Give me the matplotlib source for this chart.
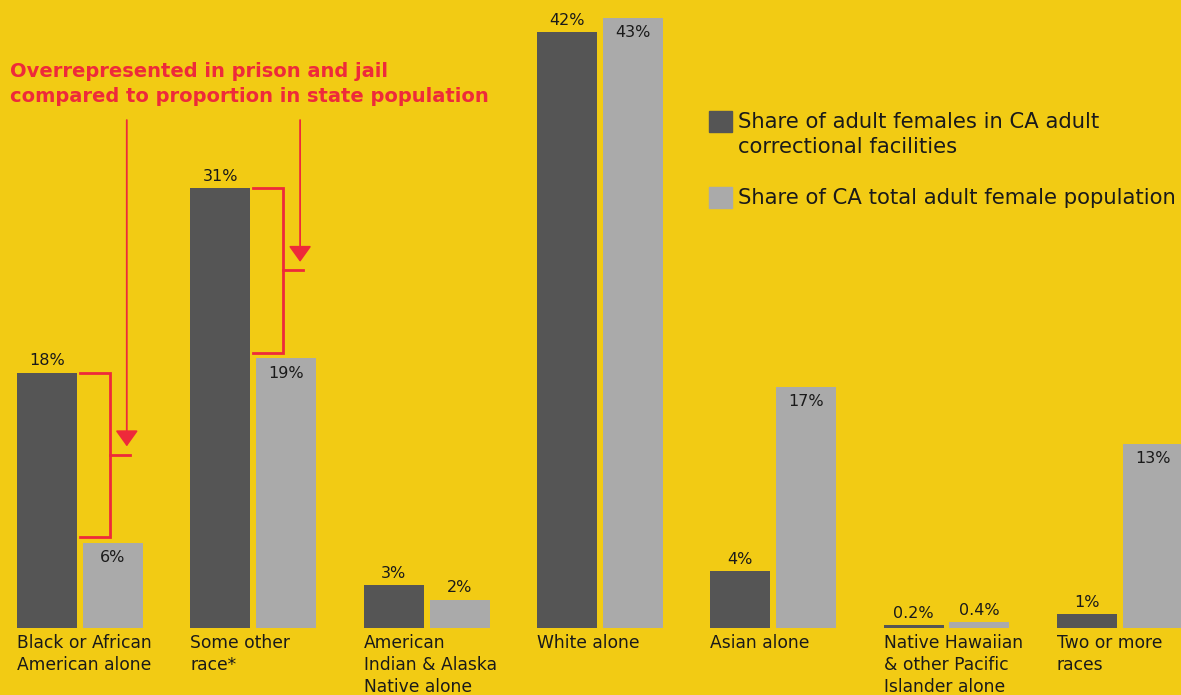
import matplotlib
matplotlib.use('Agg')
import matplotlib.pyplot as plt
from matplotlib.patches import Rectangle, FancyArrowPatch

categories = ['Black or African\nAmerican alone', 'Some other\nrace*',
              'American\nIndian & Alaska\nNative alone', 'White alone',
              'Asian alone', 'Native Hawaiian\n& other Pacific\nIslander alone',
              'Two or more\nraces']
prison = [18, 31, 3, 42, 4, 0.2, 1]
state_pop = [6, 19, 2, 43, 17, 0.4, 13]
prison_lbl = ['18%', '31%', '3%', '42%', '4%', '0.2%', '1%']
state_lbl = ['6%', '19%', '2%', '43%', '17%', '0.4%', '13%']
legend_labels = ['Share of adult females in CA adult\ncorrectional facilities',
                 'Share of CA total adult female population']
note = 'Overrepresented in prison and jail\ncompared to proportion in state population'
overrep = [0, 1]  # groups with the red brackets

BG = '#F2CB14'
DARK = '#555555'
LIGHT = '#AAAAAA'
RED = '#EE2A3A'
TXT = '#1a1a1a'
FONT = 'DejaVu Sans'

plt.rcParams['font.family'] = FONT

fig = plt.figure(figsize=(11.81, 6.95), dpi=100, facecolor=BG)
ax = fig.add_axes([0, 0, 1, 1])
ax.set_facecolor(BG)
ax.set_xlim(-0.4616, 6.353)
ax.set_ylim(-4.72, 44.26)
ax.axis('off')

w = 0.346
off = 0.19
xs = list(range(len(categories)))

ax.bar([x - off for x in xs], prison, width=w, color=DARK)
ax.bar([x + off for x in xs], state_pop, width=w, color=LIGHT)

for i in xs:
    ax.text(i - off, prison[i] + 0.3, prison_lbl[i], ha='center', va='bottom',
            fontsize=11.5, color=TXT)
    if state_pop[i] >= 5:
        ax.text(i + off, state_pop[i] - 0.5, state_lbl[i], ha='center', va='top',
                fontsize=11.5, color=TXT)
    else:
        ax.text(i + off, state_pop[i] + 0.3, state_lbl[i], ha='center', va='bottom',
                fontsize=11.5, color=TXT)
    ax.text(i - off - w / 2, -0.45, categories[i], ha='left', va='top',
            fontsize=12.3, color=TXT, linespacing=1.26)

# red brackets + arrows
for i in overrep:
    hi, lo = prison[i], state_pop[i] + 0.4
    bx = i + 0.173
    ax.plot([i, bx, bx, i], [hi, hi, lo, lo], color=RED, lw=2, solid_joinstyle='miter')
    mid = (hi + lo) / 2
    ax.plot([bx, bx + 0.115], [mid, mid], color=RED, lw=2)
    ax.add_patch(FancyArrowPatch((i + 0.27, 35.8), (i + 0.27, mid + 0.6),
                                 arrowstyle='-|>,head_length=0.7,head_width=0.5',
                                 mutation_scale=14, color=RED, lw=1.3,
                                 shrinkA=0, shrinkB=0))

fig.text(10 / 1181, 1 - 62 / 695, note, ha='left', va='top', fontsize=14,
         fontweight='bold', color=RED, linespacing=1.38)

# legend
for k, (lab, col) in enumerate(zip(legend_labels, [DARK, LIGHT])):
    y_top = [111, 187][k]
    fig.patches.append(Rectangle((709 / 1181, 1 - (y_top + 21) / 695), 23 / 1181, 21 / 695,
                                 transform=fig.transFigure, color=col))
    fig.text(738 / 1181, 1 - (y_top + 1) / 695, lab, ha='left', va='top',
             fontsize=15.2, color=TXT, linespacing=1.32)

fig.savefig('out.png', dpi=100, facecolor=BG)
